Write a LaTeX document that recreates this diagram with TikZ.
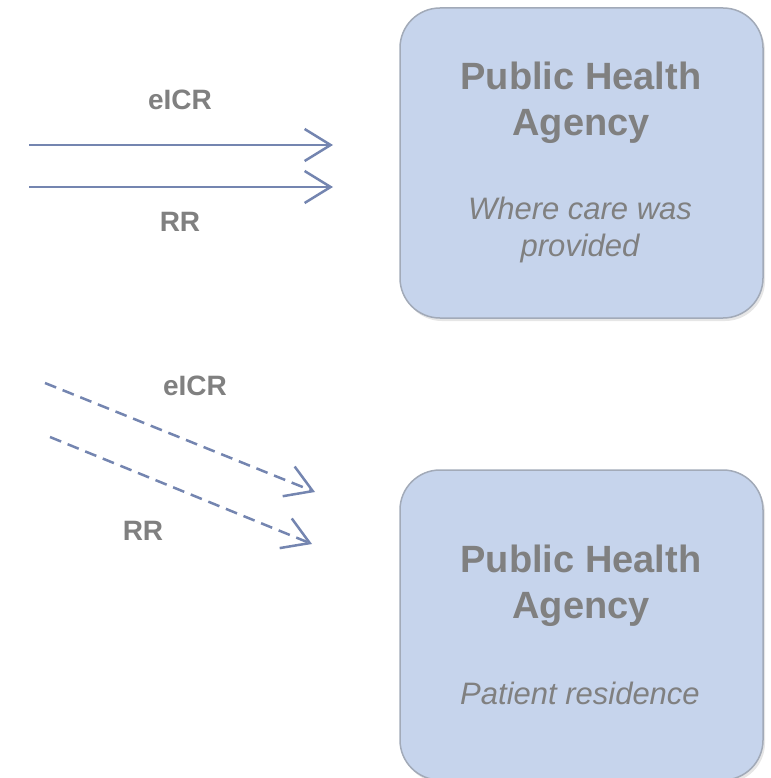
\documentclass[tikz,border=0pt]{standalone}
\usepackage{fontspec}
\setmainfont{Liberation Sans}
\usetikzlibrary{arrows.meta,positioning,shadows}

\definecolor{agencyfill}{HTML}{C6D4EC}
\definecolor{agencyline}{HTML}{A2AAB8}
\definecolor{flowline}{HTML}{7485B0}
\definecolor{labelgrey}{HTML}{808080}

\tikzset{
  agency/.style={draw=agencyline, fill=agencyfill, line width=1.5pt,
    rounded corners=40pt, minimum width=363pt, minimum height=310pt,
    drop shadow={shadow xshift=2pt, shadow yshift=-3pt, opacity=0.2}},
  agencytitle/.style={text=labelgrey, align=center,
    font=\fontsize{38}{46}\selectfont\bfseries},
  agencynote/.style={text=labelgrey, align=center,
    font=\fontsize{31}{37}\selectfont\itshape},
  msglabel/.style={text=labelgrey, font=\fontsize{28}{32}\selectfont\bfseries},
  msgflow/.style={draw=flowline, line width=2.5pt,
    -{Straight Barb[length=26pt,width=32pt,line width=2.5pt]}},
  msgdashed/.style={msgflow, dash pattern=on 12pt off 7pt}
}

\begin{document}
\begin{tikzpicture}[x=1pt, y=-1pt]
	\useasboundingbox (0,0) rectangle (770,778);

	% agency where care was provided
	\node[agency] (care) at (581.5,163) {};
	\node[agencytitle] (caretitle) at (581,103) {Public Health\\Agency};
	\node[agencynote] (carenote) at (580,230) {Where care was\\provided};

	% agency of patient residence
	\node[agency] (home) at (581.5,625) {};
	\node[agencytitle] (hometitle) at (581,586) {Public Health\\Agency};
	\node[agencynote] (homenote) at (580,693) {Patient residence};

	% reports to the agency where care was provided
	\coordinate (icrfrom) at (29,145);
	\coordinate (icrto) at (333,145);
	\coordinate (rrfrom) at (29,187);
	\coordinate (rrto) at (333,187);
	\draw[msgflow] (icrfrom) -- (icrto);
	\draw[msgflow] (rrfrom) -- (rrto);
	\node[msglabel] (icrlabel) at (180,100) {eICR};
	\node[msglabel] (rrlabel) at (180,222) {RR};

	% reports routed on to the residence agency
	\coordinate (icrfromb) at (45,383);
	\coordinate (icrtob) at (315,492);
	\coordinate (rrfromb) at (50,437);
	\coordinate (rrtob) at (312,544);
	\draw[msgdashed] (icrfromb) -- (icrtob);
	\draw[msgdashed] (rrfromb) -- (rrtob);
	\node[msglabel] (icrlabelb) at (195,386) {eICR};
	\node[msglabel] (rrlabelb) at (143,531) {RR};
\end{tikzpicture}
\end{document}
